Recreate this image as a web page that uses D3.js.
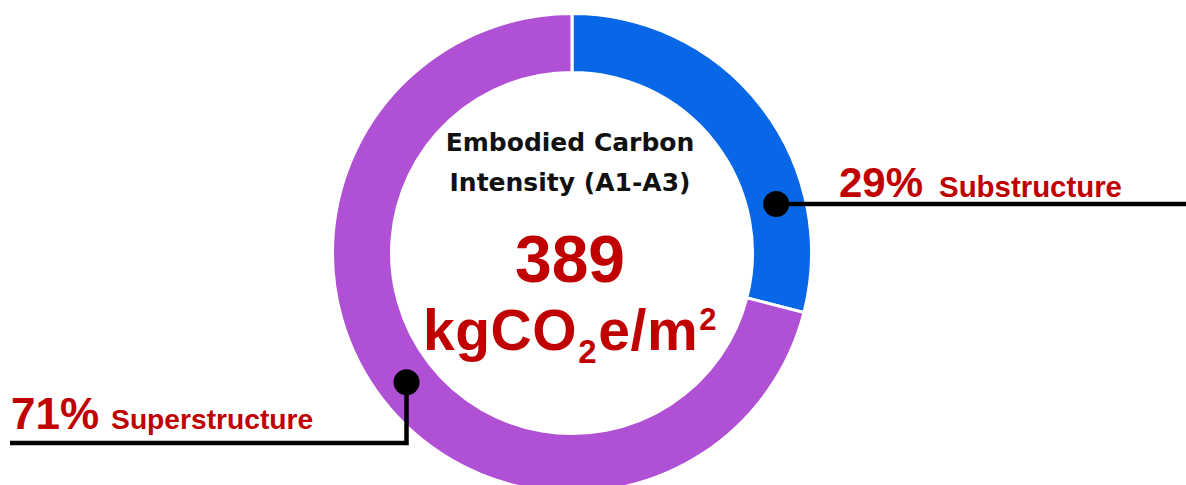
<!DOCTYPE html>
<html>
<head>
<meta charset="utf-8">
<script src="https://cdn.jsdelivr.net/npm/d3@7"></script>
<style>
  html, body { margin: 0; padding: 0; background: #fff; }
  svg { display: block; }
</style>
</head>
<body>
<svg id="chart" width="1186" height="485"></svg>
<script>
// Embodied carbon split by building element
const segments = ["Substructure", "Superstructure"];
const shares = [29, 71];                 // percent of total
const segmentColors = ["#0767E7", "#B050D5"];
const intensityValue = 389;
const titleLines = ["Embodied Carbon", "Intensity (A1-A3)"];

const width = 1186, height = 485;
const cx = 572, cy = 253;
const outerR = 239.5, innerR = 180.5;
const red = "#C00000";
const redFont = "'Liberation Sans', Arial, sans-serif";
const titleFont = "'DejaVu Sans', sans-serif";

const svg = d3.select("#chart");
const g = svg.append("g").attr("transform", `translate(${cx},${cy})`);

const pie = d3.pie().sort(null).value(d => d.value);
const arcs = pie(segments.map((name, i) => ({ name, value: shares[i], color: segmentColors[i] })));
const arc = d3.arc().innerRadius(innerR).outerRadius(outerR);

g.selectAll("path.slice")
  .data(arcs)
  .join("path")
  .attr("class", "slice")
  .attr("d", arc)
  .attr("fill", d => d.data.color)
  .attr("stroke", "#fff")
  .attr("stroke-width", 3);

// Centre text
const center = svg.append("g").attr("transform", `translate(570,0)`);
center.selectAll("text.title")
  .data(titleLines)
  .join("text")
  .attr("class", "title")
  .attr("x", 0)
  .attr("y", (d, i) => 151 + i * 40)
  .attr("text-anchor", "middle")
  .attr("font-family", titleFont)
  .attr("font-weight", 700)
  .attr("font-size", 25)
  .attr("fill", "#111")
  .text(d => d);

center.append("text")
  .attr("x", 0).attr("y", 282)
  .attr("text-anchor", "middle")
  .attr("font-family", redFont)
  .attr("font-weight", 700)
  .attr("font-size", 66)
  .attr("fill", red)
  .text(intensityValue);

const unit = center.append("text")
  .attr("x", 0).attr("y", 350)
  .attr("text-anchor", "middle")
  .attr("font-family", redFont)
  .attr("font-weight", 700)
  .attr("font-size", 57)
  .attr("letter-spacing", 0.6)
  .attr("fill", red);
unit.append("tspan").text("kgCO");
unit.append("tspan").attr("font-size", 33).attr("dy", 13).attr("dx", 1).text("2");
unit.append("tspan").attr("dy", -13).attr("dx", 1).text("e/m");
unit.append("tspan").attr("font-size", 31).attr("dy", -20).attr("dx", 1).text("2");

// Callouts: dot on the ring, leader line, label
const ringMid = (innerR + outerR) / 2;
const callouts = [
  { angle: 76.5, path: p => [[p[0], p[1]], [width, p[1]]],
    labelX: 839, labelY: 197, big: 42, small: 29.4, gap: 16 },
  { angle: 232, path: p => [[p[0], p[1]], [p[0], 443], [10, 443]],
    labelX: 11, labelY: 429, big: 44, small: 28.2, gap: 12 }
];

callouts.forEach((c, i) => {
  const a = c.angle * Math.PI / 180;
  const p = [cx + Math.sin(a) * ringMid, cy - Math.cos(a) * ringMid];
  svg.append("path")
    .attr("d", d3.line()(c.path(p)))
    .attr("fill", "none")
    .attr("stroke", "#000")
    .attr("stroke-width", 4.5)
    .attr("stroke-linejoin", "miter");
  svg.append("circle")
    .attr("cx", p[0]).attr("cy", p[1]).attr("r", 13)
    .attr("fill", "#000");

  const t = svg.append("text")
    .attr("x", c.labelX).attr("y", c.labelY)
    .attr("font-family", redFont)
    .attr("font-weight", 700)
    .attr("fill", red);
  t.append("tspan").attr("font-size", c.big).text(`${shares[i]}%`);
  t.append("tspan").attr("font-size", c.small).attr("dx", c.gap).text(segments[i]);
});
</script>
</body>
</html>
